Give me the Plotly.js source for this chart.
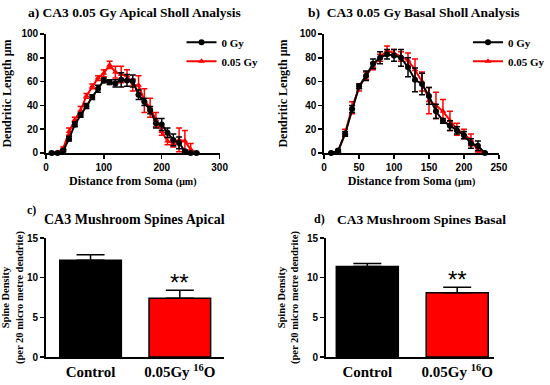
<!DOCTYPE html>
<html><head><meta charset="utf-8">
<script src="https://cdn.plot.ly/plotly-3.0.1.min.js"></script>
<style>html,body{margin:0;padding:0;background:#fff}#chart{width:550px;height:385px}</style>
</head><body><div id="chart"></div>
<script>
// Panel a: Apical Sholl
const distA = [10,20,30,40,50,60,70,80,90,100,110,120,130,140,150,160,170,180,190,200,210,220,230,240,250,260];
const apical0 = [0,0,2,12,24,32,39.5,47,54,61,59.5,58.5,61.5,61,60.5,49,43,36,25,24,17,11,8.5,1.5,0,0];
const apical0Err = [0.5,0.5,1,2,2,2,2,2,3,2,2,3,6,5,5,4,3,3,4,5,4,5,5,1,0.5,0.5];
const apical05 = [0,0.5,4,18,28,36,48,56,63,67,74,68,66,65,57,57,44,38,28,18,10,8,11,10,3,0];
const apical05Err = [0.5,0.5,1,3,2,3,2,2,2,3,3,5,7,5,5,8,10,8,6,3,3,3,10,9,5,0.5];
// Panel b: Basal Sholl
const distB = [10,20,30,40,50,60,70,80,90,100,110,120,130,140,150,160,170,180,190,200,210,220,230];
const basal0 = [0,2,16,37,56,65,75,80,83,82,80,72,61.5,58,48,35,27,23,19,15,8,6,0];
const basal0Err = [0.5,1,2,3,2,4,4,5,4,5,7,8,10,9,7,6,2,4,3,3,4,4,0.5];
const basal05 = [0,1,17,38,55,65,73,80,86,84,81,78,70,60,44,40,35,27,20,16,11,2,0];
const basal05Err = [0.5,0.5,3,5,3,3,3,3,4,3,4,6,9,8,11,11,10,8,5,4,5,2,0.5];
// Panels c, d: Mushroom spines
const groups = ["Control", "0.05Gy <sup>16</sup>O"];
const apicalSpines = [12.2, 7.4];
const apicalSpinesErr = [0.7, 1.0];
const basalSpines = [11.4, 8.1];
const basalSpinesErr = [0.4, 0.7];
const legendNames = ["0 Gy", "0.05 Gy"];

const serif = "Liberation Serif, Times New Roman, serif";
const sans = "Liberation Sans, Arial, sans-serif";

function line(x, y, e, name, color, symbol, xa, ya, leg, rank) {
  return {type:'scatter', mode:'lines+markers', x:x, y:y, name:name,
    xaxis:xa, yaxis:ya, legend:leg, legendrank:rank, showlegend:true,
    line:{color:color, width:2}, marker:{color:color, symbol:symbol, size:6},
    error_y:{type:'data', array:e, color:color, thickness:1.5, width:3}, cliponaxis:false};
}
const traces = [
  line(distA, apical05, apical05Err, legendNames[1], '#ff0000', 'triangle-up', 'x', 'y', 'legend', 2),
  line(distA, apical0, apical0Err, legendNames[0], '#000', 'circle', 'x', 'y', 'legend', 1),
  line(distB, basal05, basal05Err, legendNames[1], '#ff0000', 'triangle-up', 'x2', 'y2', 'legend2', 2),
  line(distB, basal0, basal0Err, legendNames[0], '#000', 'circle', 'x2', 'y2', 'legend2', 1),
  {type:'bar', x:[0,1], y:apicalSpines, xaxis:'x3', yaxis:'y3', width:0.69, showlegend:false,
   marker:{color:['#000','#ff0000'], line:{color:'#000', width:1.5}},
   error_y:{type:'data', symmetric:false, array:apicalSpinesErr, arrayminus:[0,0], color:'#000', thickness:1.5, width:14}},
  {type:'bar', x:[0,1], y:basalSpines, xaxis:'x4', yaxis:'y4', width:0.69, showlegend:false,
   marker:{color:['#000','#ff0000'], line:{color:'#000', width:1.5}},
   error_y:{type:'data', symmetric:false, array:basalSpinesErr, arrayminus:[0,0], color:'#000', thickness:1.5, width:14}}
];

const tickF = {family:sans, size:10, color:'#000', weight:'bold'};
const titleF = {family:serif, size:12, color:'#000', weight:'bold'};
function ax(domain, range, dtick, anchor, extra) {
  return Object.assign({domain:domain, range:range, dtick:dtick, tick0:0, anchor:anchor,
    showline:true, linecolor:'#000', linewidth:1.8, ticks:'outside', ticklen:4, tickwidth:1.5, tickcolor:'#000',
    showgrid:false, zeroline:false, tickfont:tickF, fixedrange:true}, extra||{});
}
const umSpan = '<span style="font-size:10px">(μm)</span>';
const layout = {
  width:550, height:385, margin:{l:0,r:0,t:0,b:0}, paper_bgcolor:'#fff', plot_bgcolor:'#fff',
  showlegend:true, bargap:0,
  xaxis: ax([0.0855,0.409],[0,300],100,'y',{title:{text:'Distance from Soma '+umSpan, font:titleF, standoff:5}}),
  yaxis: ax([0.6026,0.9117],[0,100],20,'x',{title:{text:'Dendritic Length μm', font:titleF, standoff:7}}),
  xaxis2: ax([0.6036,0.929],[0,250],50,'y2',{title:{text:'Distance from Soma '+umSpan, font:titleF, standoff:5}}),
  yaxis2: ax([0.6026,0.9117],[0,100],20,'x2',{title:{text:'Dendritic Length μm', font:titleF, standoff:9}}),
  xaxis3: ax([0.0855,0.418],[-0.5,1.5],1,'y3',{tickmode:'array', tickvals:[0,1], ticktext:groups, ticks:'',
    tickfont:{family:serif, size:15, color:'#000', weight:'bold'}}),
  yaxis3: ax([0.0727,0.3818],[0,15],5,'x3',{title:{text:'Spine Density<br>(per 20 micro metre dendrite)',
    font:{family:serif, size:10.5, color:'#000', weight:'bold'}, standoff:6}}),
  xaxis4: ax([0.607,0.92],[-0.46,1.41],1,'y4',{tickmode:'array', tickvals:[0,1], ticktext:groups, ticks:'',
    tickfont:{family:serif, size:15, color:'#000', weight:'bold'}}),
  yaxis4: ax([0.0727,0.3818],[0,15],5,'x4',{title:{text:'Spine Density<br>(per 20 micro metre dendrite)',
    font:{family:serif, size:10.5, color:'#000', weight:'bold'}, standoff:6}}),
  legend:{x:0.338, y:0.928, xanchor:'left', yanchor:'top', bgcolor:'rgba(0,0,0,0)',
    font:{family:serif, size:11, color:'#000', weight:'bold'}, tracegroupgap:0, itemwidth:30},
  legend2:{x:0.872, y:0.928, xanchor:'left', yanchor:'top', bgcolor:'rgba(0,0,0,0)',
    font:{family:serif, size:11, color:'#000', weight:'bold'}, tracegroupgap:0, itemwidth:30},
  annotations:[
    {text:'a) CA3 0.05 Gy Apical Sholl Analysis', xref:'paper', yref:'paper', x:27/550, y:1-12/385,
     xanchor:'left', yanchor:'middle', showarrow:false, font:{family:serif, size:13.5, color:'#000', weight:'bold'}},
    {text:'b)  CA3 0.05 Gy Basal Sholl Analysis', xref:'paper', yref:'paper', x:313/550, y:1-12/385,
     xanchor:'left', yanchor:'middle', showarrow:false, font:{family:serif, size:13.5, color:'#000', weight:'bold'}},
    {text:'c)', xref:'paper', yref:'paper', x:26/550, y:1-210/385, xanchor:'left', yanchor:'middle', showarrow:false,
     font:{family:serif, size:12, color:'#000', weight:'bold'}},
    {text:'CA3 Mushroom Spines Apical', xref:'paper', yref:'paper', x:138/550, y:1-219/385, xanchor:'center', yanchor:'middle',
     showarrow:false, font:{family:serif, size:14, color:'#000', weight:'bold'}},
    {text:'d)', xref:'paper', yref:'paper', x:320/550, y:1-219/385, xanchor:'left', yanchor:'middle', showarrow:false,
     font:{family:serif, size:12, color:'#000', weight:'bold'}},
    {text:'CA3 Mushroom Spines Basal', xref:'paper', yref:'paper', x:343/550, y:1-219/385, xanchor:'left', yanchor:'middle',
     showarrow:false, font:{family:serif, size:13.5, color:'#000', weight:'bold'}},
    {text:'**', xref:'x3', yref:'y3', x:1, y:apicalSpines[1]+apicalSpinesErr[1], xanchor:'center', yanchor:'bottom', yshift:-8,
     showarrow:false, font:{family:sans, size:24, color:'#000'}},
    {text:'**', xref:'x4', yref:'y4', x:1, y:basalSpines[1]+basalSpinesErr[1], xanchor:'center', yanchor:'bottom', yshift:-8,
     showarrow:false, font:{family:sans, size:24, color:'#000'}}
  ]
};
Plotly.newPlot('chart', traces, layout, {displayModeBar:false, staticPlot:true});
</script></body></html>
